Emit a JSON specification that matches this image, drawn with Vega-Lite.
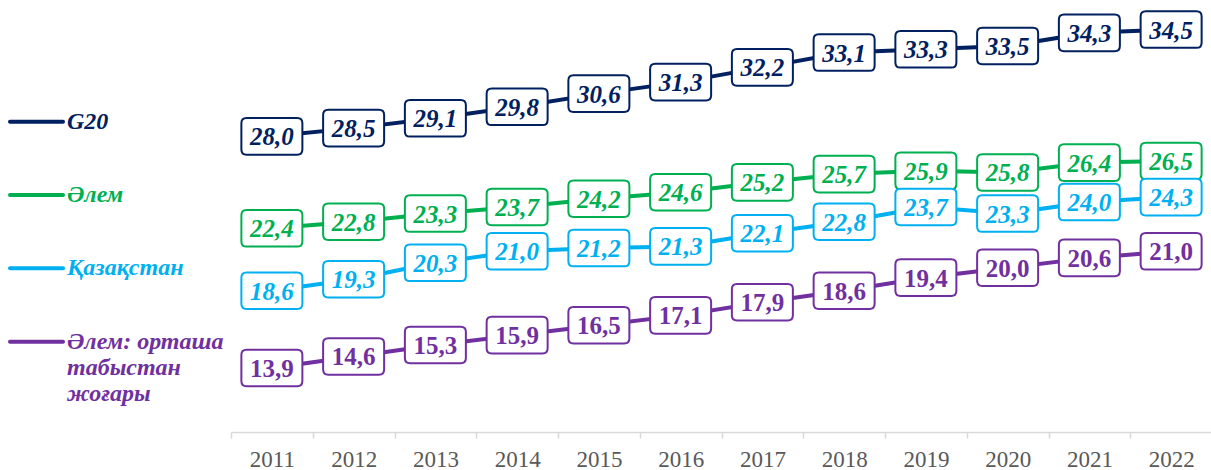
{
  "$schema": "https://vega.github.io/schema/vega-lite/v6.json",
  "padding": 0,
  "spacing": 0,
  "background": "white",
  "config": {
    "view": {"stroke": null},
    "locale": {"number": {"decimal": ",", "thousands": " ", "grouping": [3], "currency": ["", ""]}}
  },
  "datasets": {
    "legend": [
      {"series": "G20", "label": "G20"},
      {"series": "Әлем", "label": "Әлем"},
      {"series": "Қазақстан", "label": "Қазақстан"},
      {"series": "Әлем: орташа табыстан жоғары", "label": "Әлем: орташа\nтабыстан\nжоғары"}
    ],
    "main": [
      {"year": 2011, "series": "G20", "value": 28.0},
      {"year": 2012, "series": "G20", "value": 28.5},
      {"year": 2013, "series": "G20", "value": 29.1},
      {"year": 2014, "series": "G20", "value": 29.8},
      {"year": 2015, "series": "G20", "value": 30.6},
      {"year": 2016, "series": "G20", "value": 31.3},
      {"year": 2017, "series": "G20", "value": 32.2},
      {"year": 2018, "series": "G20", "value": 33.1},
      {"year": 2019, "series": "G20", "value": 33.3},
      {"year": 2020, "series": "G20", "value": 33.5},
      {"year": 2021, "series": "G20", "value": 34.3},
      {"year": 2022, "series": "G20", "value": 34.5},
      {"year": 2011, "series": "Әлем", "value": 22.4},
      {"year": 2012, "series": "Әлем", "value": 22.8},
      {"year": 2013, "series": "Әлем", "value": 23.3},
      {"year": 2014, "series": "Әлем", "value": 23.7},
      {"year": 2015, "series": "Әлем", "value": 24.2},
      {"year": 2016, "series": "Әлем", "value": 24.6},
      {"year": 2017, "series": "Әлем", "value": 25.2},
      {"year": 2018, "series": "Әлем", "value": 25.7},
      {"year": 2019, "series": "Әлем", "value": 25.9},
      {"year": 2020, "series": "Әлем", "value": 25.8},
      {"year": 2021, "series": "Әлем", "value": 26.4},
      {"year": 2022, "series": "Әлем", "value": 26.5},
      {"year": 2011, "series": "Қазақстан", "value": 18.6},
      {"year": 2012, "series": "Қазақстан", "value": 19.3},
      {"year": 2013, "series": "Қазақстан", "value": 20.3},
      {"year": 2014, "series": "Қазақстан", "value": 21.0},
      {"year": 2015, "series": "Қазақстан", "value": 21.2},
      {"year": 2016, "series": "Қазақстан", "value": 21.3},
      {"year": 2017, "series": "Қазақстан", "value": 22.1},
      {"year": 2018, "series": "Қазақстан", "value": 22.8},
      {"year": 2019, "series": "Қазақстан", "value": 23.7},
      {"year": 2020, "series": "Қазақстан", "value": 23.3},
      {"year": 2021, "series": "Қазақстан", "value": 24.0},
      {"year": 2022, "series": "Қазақстан", "value": 24.3},
      {"year": 2011, "series": "Әлем: орташа табыстан жоғары", "value": 13.9},
      {"year": 2012, "series": "Әлем: орташа табыстан жоғары", "value": 14.6},
      {"year": 2013, "series": "Әлем: орташа табыстан жоғары", "value": 15.3},
      {"year": 2014, "series": "Әлем: орташа табыстан жоғары", "value": 15.9},
      {"year": 2015, "series": "Әлем: орташа табыстан жоғары", "value": 16.5},
      {"year": 2016, "series": "Әлем: орташа табыстан жоғары", "value": 17.1},
      {"year": 2017, "series": "Әлем: орташа табыстан жоғары", "value": 17.9},
      {"year": 2018, "series": "Әлем: орташа табыстан жоғары", "value": 18.6},
      {"year": 2019, "series": "Әлем: орташа табыстан жоғары", "value": 19.4},
      {"year": 2020, "series": "Әлем: орташа табыстан жоғары", "value": 20.0},
      {"year": 2021, "series": "Әлем: орташа табыстан жоғары", "value": 20.6},
      {"year": 2022, "series": "Әлем: орташа табыстан жоғары", "value": 21.0}
    ]
  },
  "hconcat": [
    {
      "width": 230,
      "height": 432,
      "data": {"name": "legend"},
      "encoding": {
        "y": {"field": "series", "type": "nominal", "sort": null, "scale": {"type": "band", "paddingInner": 0, "paddingOuter": 0.947, "align": 0.613}, "axis": null},
        "color": {"field": "series", "type": "nominal", "legend": null,
          "scale": {"domain": ["G20", "Әлем", "Қазақстан", "Әлем: орташа табыстан жоғары"], "range": ["#002060", "#00B050", "#00B0F0", "#7030A0"]}}
      },
      "layer": [
        {
          "mark": {"type": "rule", "strokeWidth": 4, "strokeCap": "round"},
          "encoding": {
            "x": {"datum": 10, "type": "quantitative", "scale": {"domain": [0, 230], "nice": false, "zero": false}, "axis": null},
            "x2": {"datum": 63}
          }
        },
        {
          "mark": {"type": "text", "align": "left", "baseline": "top", "dy": -12, "font": "Liberation Serif", "fontSize": 24, "fontWeight": "bold", "fontStyle": "italic", "lineBreak": "\n", "lineHeight": 26},
          "encoding": {
            "x": {"datum": 67, "type": "quantitative"},
            "text": {"field": "label", "type": "nominal"}
          }
        }
      ]
    },
    {
      "width": 981,
      "height": 432,
      "data": {"name": "main"},
      "encoding": {
        "x": {"field": "year", "type": "ordinal", "scale": {"type": "band", "paddingInner": 0, "paddingOuter": 0},
          "axis": {"title": null, "tickBand": "extent", "domainColor": "#d9d9d9", "domainWidth": 1.5, "tickColor": "#d9d9d9", "tickWidth": 1.5, "tickSize": 6, "labelFont": "Liberation Serif", "labelFontSize": 23, "labelColor": "#595959", "labelPadding": 10, "labelAngle": 0}},
        "y": {"field": "value", "type": "quantitative", "scale": {"domain": [10, 36.3], "zero": false, "nice": false}, "axis": null}
      },
      "layer": [
        {
          "mark": {"type": "line", "strokeWidth": 4},
          "encoding": {
            "color": {"field": "series", "type": "nominal", "legend": null,
              "scale": {"domain": ["G20", "Әлем", "Қазақстан", "Әлем: орташа табыстан жоғары"], "range": ["#002060", "#00B050", "#00B0F0", "#7030A0"]}}
          }
        },
        {
          "mark": {"type": "point", "shape": "M-0.83,-0.6 L0.83,-0.6 Q1,-0.6 1,-0.43 L1,0.43 Q1,0.6 0.83,0.6 L-0.83,0.6 Q-1,0.6 -1,0.43 L-1,-0.43 Q-1,-0.6 -0.83,-0.6 Z", "size": 3721, "filled": true, "fill": "white", "strokeWidth": 2, "opacity": 1},
          "encoding": {
            "stroke": {"field": "series", "type": "nominal", "legend": null,
              "scale": {"domain": ["G20", "Әлем", "Қазақстан", "Әлем: орташа табыстан жоғары"], "range": ["#002060", "#00B050", "#00B0F0", "#7030A0"]}}
          }
        },
        {
          "transform": [{"filter": "datum.series !== 'Әлем: орташа табыстан жоғары'"}],
          "mark": {"type": "text", "font": "Liberation Serif", "fontSize": 25, "fontWeight": "bold", "fontStyle": "italic", "baseline": "middle", "align": "center", "dy": 1},
          "encoding": {
            "text": {"field": "value", "type": "quantitative", "format": ".1f"},
            "color": {"field": "series", "type": "nominal", "legend": null,
              "scale": {"domain": ["G20", "Әлем", "Қазақстан", "Әлем: орташа табыстан жоғары"], "range": ["#002060", "#00B050", "#00B0F0", "#7030A0"]}}
          }
        },
        {
          "transform": [{"filter": "datum.series === 'Әлем: орташа табыстан жоғары'"}],
          "mark": {"type": "text", "font": "Liberation Serif", "fontSize": 25, "fontWeight": "bold", "baseline": "middle", "align": "center", "dy": 1},
          "encoding": {
            "text": {"field": "value", "type": "quantitative", "format": ".1f"},
            "color": {"field": "series", "type": "nominal", "legend": null,
              "scale": {"domain": ["G20", "Әлем", "Қазақстан", "Әлем: орташа табыстан жоғары"], "range": ["#002060", "#00B050", "#00B0F0", "#7030A0"]}}
          }
        }
      ]
    }
  ]
}
